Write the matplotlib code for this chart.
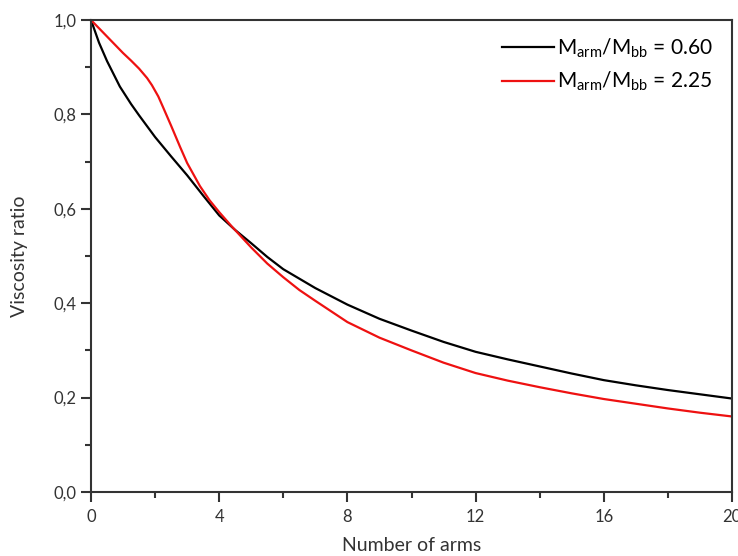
import matplotlib
matplotlib.use("Agg")
import matplotlib.pyplot as plt
from matplotlib.ticker import MultipleLocator, FuncFormatter

plt.rcParams["font.family"] = ["Lato", "DejaVu Sans"]
plt.rcParams["mathtext.fontset"] = "custom"
plt.rcParams["mathtext.rm"] = "Lato"
plt.rcParams["mathtext.it"] = "Lato:italic"

# values
arms_black = [0, 0.25, 0.5, 0.9, 1.25, 1.5, 2, 2.5, 3, 3.5, 4, 4.5, 5, 5.5, 6, 7, 8, 9, 10,
              11, 12, 13, 14, 15, 16, 17, 18, 19, 20]
ratio_black = [1.0, 0.952, 0.913, 0.859, 0.822, 0.798, 0.752, 0.711, 0.671, 0.628, 0.586, 0.555,
               0.527, 0.498, 0.472, 0.432, 0.397, 0.367, 0.342, 0.318, 0.297, 0.281, 0.266,
               0.251, 0.237, 0.226, 0.216, 0.207, 0.198]

arms_red = [0, 0.5, 1.0, 1.25, 1.5, 1.75, 1.9, 2.1, 2.25, 2.5, 2.78, 3.0, 3.4, 3.7, 4.0, 4.4, 5,
            5.5, 6, 6.5, 7, 8, 9, 10, 11, 12, 13, 14, 15, 16, 17, 18, 19, 20]
ratio_red = [1.0, 0.965, 0.930, 0.914, 0.897, 0.877, 0.862, 0.838, 0.815, 0.776, 0.731, 0.697,
             0.648, 0.618, 0.593, 0.562, 0.518, 0.484, 0.455, 0.428, 0.405, 0.360, 0.327,
             0.300, 0.274, 0.252, 0.236, 0.222, 0.209, 0.197, 0.187, 0.177, 0.168, 0.160]

labels = [r"M$_{\rm arm}$/M$_{\rm bb}$ = 0.60", r"M$_{\rm arm}$/M$_{\rm bb}$ = 2.25"]

fig = plt.figure(figsize=(7.38, 5.56), dpi=100)
ax = fig.add_axes([91 / 738, 1 - 492 / 556, (732 - 91) / 738, (492 - 20) / 556])

ax.plot(arms_black, ratio_black, color="black", lw=1.6, label=labels[0])
ax.plot(arms_red, ratio_red, color="#ee1111", lw=1.6, label=labels[1])

ax.set_xlim(0, 20)
ax.set_ylim(0, 1.0)
ax.xaxis.set_major_locator(MultipleLocator(4))
ax.xaxis.set_minor_locator(MultipleLocator(2))
ax.yaxis.set_major_locator(MultipleLocator(0.2))
ax.yaxis.set_minor_locator(MultipleLocator(0.1))
ax.yaxis.set_major_formatter(FuncFormatter(lambda v, p: f"{v:.1f}".replace(".", ",")))
ax.xaxis.set_major_formatter(FuncFormatter(lambda v, p: f"{v:.0f}"))

for s in ax.spines.values():
    s.set_linewidth(1.5)
    s.set_color("#333333")
ax.tick_params(which="major", direction="out", length=7, width=1.5, color="#333333",
               labelsize=12, labelcolor="#333333")
ax.tick_params(axis="x", which="major", pad=5)
ax.tick_params(which="minor", direction="out", length=4, width=1.5, color="#333333")

ax.set_xlabel("Number of arms", fontsize=14, color="#333333")
ax.set_ylabel("Viscosity ratio", fontsize=14, color="#333333")
ax.xaxis.set_label_coords(0.5, -0.095)
ax.yaxis.set_label_coords(-0.098, 0.5)

ax.legend(loc="upper right", frameon=False, fontsize=15, handlelength=2.5,
          handletextpad=0.1, labelspacing=0.5, bbox_to_anchor=(0.999, 1.005))

fig.savefig("out.png", dpi=100)
